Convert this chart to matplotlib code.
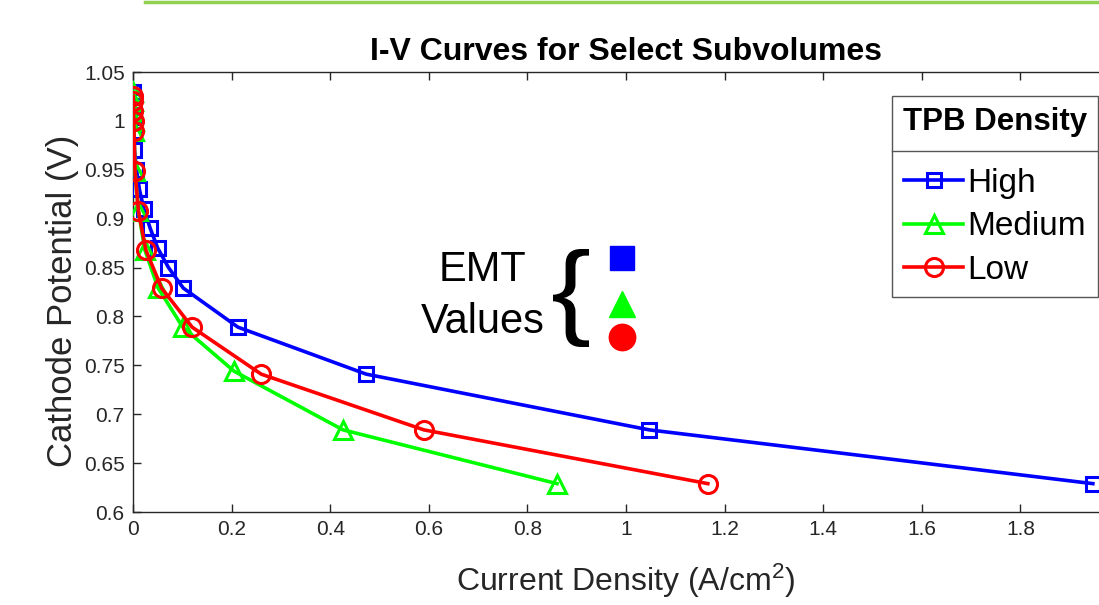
import matplotlib
matplotlib.use("Agg")
import matplotlib.pyplot as plt
from matplotlib.lines import Line2D
from matplotlib.textpath import TextPath
from matplotlib.patches import PathPatch
from matplotlib.font_manager import FontProperties
from matplotlib.transforms import Affine2D, IdentityTransform

plt.rcParams['font.family'] = ['Liberation Sans', 'DejaVu Sans']
plt.rcParams['mathtext.default'] = 'regular'

# ---- data ----
high_x = [0.0005, 0.0008, 0.001, 0.0015, 0.002, 0.003, 0.007, 0.013, 0.022, 0.035, 0.05, 0.072, 0.102, 0.213, 0.473, 1.047, 1.947]
high_y = [1.03, 1.02, 1.01, 1.0, 0.99, 0.97, 0.95, 0.93, 0.91, 0.89, 0.87, 0.85, 0.829, 0.789, 0.741, 0.684, 0.629]

med_x = [0.0005, 0.0008, 0.001, 0.0015, 0.002, 0.004, 0.011, 0.024, 0.051, 0.101, 0.205, 0.426, 0.86]
med_y = [1.03, 1.02, 1.01, 1.0, 0.99, 0.949, 0.908, 0.868, 0.829, 0.789, 0.744, 0.684, 0.629]

low_x = [0.0005, 0.0008, 0.001, 0.0015, 0.002, 0.004, 0.011, 0.026, 0.058, 0.12, 0.26, 0.59, 1.166]
low_y = [1.025, 1.02, 1.01, 1.0, 0.99, 0.949, 0.908, 0.868, 0.829, 0.789, 0.741, 0.684, 0.629]

series_labels = ["High", "Medium", "Low"]
emt_x = [0.991, 0.991, 0.991]
emt_y = [0.860, 0.813, 0.7786]

x_ticks = [0, 0.2, 0.4, 0.6, 0.8, 1.0, 1.2, 1.4, 1.6, 1.8]
x_ticklabels = ["0", "0.2", "0.4", "0.6", "0.8", "1", "1.2", "1.4", "1.6", "1.8"]
y_ticks = [0.6, 0.65, 0.7, 0.75, 0.8, 0.85, 0.9, 0.95, 1.0, 1.05]
y_ticklabels = ["0.6", "0.65", "0.7", "0.75", "0.8", "0.85", "0.9", "0.95", "1", "1.05"]

W, H = 1099, 605
fig = plt.figure(figsize=(W / 100, H / 100), dpi=100)
ax = fig.add_axes([133 / W, (H - 512) / H, (1119 - 133) / W, (512 - 72) / H])

gray = '#262626'
ax.plot(high_x, high_y, '-s', color='blue', lw=2.6, ms=10, mew=2.2, mfc='none', label=series_labels[0], zorder=3)
ax.plot(med_x, med_y, '-^', color='#00ff00', lw=2.6, ms=13, mew=2.2, mfc='none', label=series_labels[1], zorder=4)
ax.plot(low_x, low_y, '-o', color='red', lw=2.6, ms=13, mew=2.2, mfc='none', label=series_labels[2], zorder=5)

# EMT markers
ax.plot(emt_x[0], emt_y[0], 's', color='blue', ms=17, zorder=6)
ax.plot(emt_x[1], emt_y[1], '^', color='#00ff00', ms=19, zorder=6)
ax.plot(emt_x[2], emt_y[2], 'o', color='red', ms=19, zorder=6)

ax.set_xlim(0, 2.0)
ax.set_ylim(0.6, 1.05)
ax.set_xticks(x_ticks)
ax.set_xticklabels(x_ticklabels)
ax.set_yticks(y_ticks)
ax.set_yticklabels(y_ticklabels)
ax.tick_params(direction='in', length=6, width=1, colors=gray, labelsize=15,
               top=True, right=True, pad=6)
for s in ax.spines.values():
    s.set_color(gray)
    s.set_linewidth(1)

ax.set_title("I-V Curves for Select Subvolumes", fontsize=23, fontweight='bold', pad=9)
ax.set_xlabel("Current Density (A/cm$^2$)", fontsize=23, color=gray, labelpad=16)
ax.set_ylabel("Cathode Potential (V)", fontsize=25, color=gray)
ax.yaxis.set_label_coords(-0.055, 0.48)

leg = ax.legend(loc='upper right', bbox_to_anchor=(1098 / W, (H - 96) / H),
                bbox_transform=fig.transFigure, borderaxespad=0,
                fontsize=24, title="TPB Density",
                title_fontproperties={'weight': 'bold', 'size': 22.5},
                fancybox=False, edgecolor='#555555', framealpha=1,
                handlelength=1.75, handletextpad=0.12, labelspacing=0.38,
                borderpad=0.33)
leg.get_frame().set_linewidth(1)
# extra gap between legend title and entries
leg._legend_box.sep = 22

# EMT label
fig.text(483 / W, (H - 270) / H, "EMT", fontsize=30, ha='center', va='center')
fig.text(483 / W, (H - 322) / H, "Values", fontsize=30, ha='center', va='center')

# brace
tp = TextPath((0, 0), "{", size=100, prop=FontProperties(family='Liberation Sans'))
bb = tp.get_extents()
target_w, target_h = 36.0, 98.0
sx = target_w / bb.width
sy = target_h / bb.height
x0, y0 = 553, H - 347
tr = Affine2D().translate(-bb.x0, -bb.y0).scale(sx, sy).translate(x0, y0)
brace = PathPatch(tr.transform_path(tp), facecolor='black', edgecolor='none',
                  transform=IdentityTransform())
fig.patches.append(brace)

# decoration line at top
fig.add_artist(Line2D([145 / W, 1.0], [1 - 1.5 / H, 1 - 1.5 / H], color='#92D050',
                      lw=2.5, transform=fig.transFigure))

# legend separator
fig.canvas.draw()
lb = leg.get_window_extent()
ysep = H - 151
fig.add_artist(Line2D([lb.x0, lb.x1], [ysep, ysep], color='#555555', lw=1,
                      transform=IdentityTransform()))

fig.savefig("out.png", dpi=100)
